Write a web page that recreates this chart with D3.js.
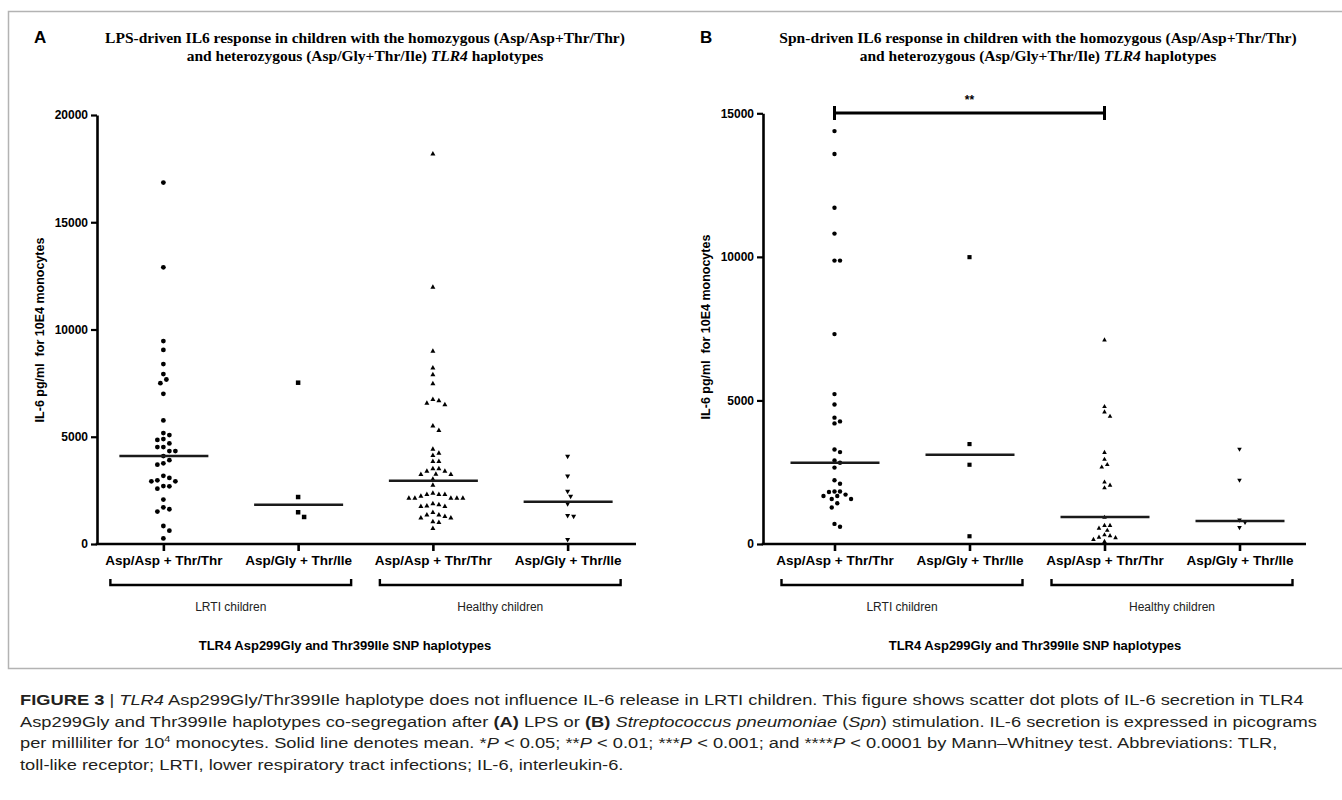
<!DOCTYPE html>
<html>
<head>
<meta charset="utf-8">
<script src="https://cdn.jsdelivr.net/npm/d3@7"></script>
<style>
  body { margin: 0; background: #fff; }
  svg { display: block; }
</style>
</head>
<body>
<svg id="fig" width="1342" height="800"></svg>
<script>
// category labels on the x axis (same for both panels)
const categories = ["Asp/Asp + Thr/Thr", "Asp/Gly + Thr/Ile", "Asp/Asp + Thr/Thr", "Asp/Gly + Thr/Ile"]
const groupLabels = ["LRTI children", "Healthy children"]
const markerShapes = ["circle", "square", "triangle", "triangleDown"]

// panel A, LPS stimulation (pg/ml)
const lpsLrtiHomo = [16850, 12900, 9460, 9050, 8390, 7920, 7670, 7500, 7000, 5760, 5170, 5080, 4890, 4850, 4690,
  4520, 4520, 4330, 4330, 4100, 3910, 3760, 3700, 3180, 3080, 2970, 2920, 2920, 2700, 2690, 2580, 2070,
  1710, 1620, 1510, 840, 620, 260]
const lpsLrtiHet = [7520, 2190, 1480, 1260]
const lpsHealthyHomo = [18200, 11990, 9010, 8230, 7910, 7490, 6760, 6700, 6590, 6510, 5530, 5310, 4440, 4250, 4150,
  3870, 3870, 3530, 3530, 3420, 3420, 3270, 3260, 3260, 3040, 2760, 2390, 2330, 2330, 2330, 2250, 2160, 2160,
  2160, 2160, 2160, 1900, 1850, 1800, 1770, 1770, 1490, 1370, 1370, 1300, 1240, 1240, 1060, 1030, 750]
const lpsHealthyHet = [4070, 3150, 2440, 2200, 1850, 1300, 1270, 190]
const lpsLines = [4100, 1830, 2950, 1970]
const lpsTicks = [0, 5000, 10000, 15000, 20000]

// panel B, Spn stimulation (pg/ml)
const spnLrtiHomo = [14380, 13580, 11710, 10810, 9870, 9870, 7310, 5220, 4860, 4400, 4270, 4200, 3290, 3200, 2910,
  2830, 2660, 2220, 2100, 1830, 1830, 1810, 1720, 1670, 1670, 1570, 1570, 1420, 1270, 700, 600]
const spnLrtiHet = [9990, 3480, 2760, 270]
const spnHealthyHomo = [7120, 4800, 4610, 4460, 3200, 2960, 2780, 2690, 2170, 2060, 1970, 940, 660, 660, 560, 490,
  330, 300, 250, 230, 170, 100]
const spnHealthyHet = [3290, 2210, 820, 740, 560]
const spnLines = [2830, 3110, 940, 800]
const spnTicks = [0, 5000, 10000, 15000]

const svg = d3.select("#fig")
const sans = "Arial, 'Liberation Sans', Helvetica, sans-serif"
const serif = "'Times New Roman', 'Liberation Serif', serif"

// figure frame
svg.append("rect")
  .attr("x", 8.5).attr("y", 11.5)
  .attr("width", 1340).attr("height", 657)
  .attr("fill", "none").attr("stroke", "#b3b3b3").attr("stroke-width", 1.5)

// simple dodge so dots in one column don't sit on top of each other
function swarm(values, y, cx, minDist, step) {
  const placed = []
  const sorted = values.slice().sort((a, b) => b - a)
  return sorted.map(v => {
    const py = y(v)
    let k = 0, off = 0
    while (true) {
      off = k === 0 ? 0 : (k % 2 ? 1 : -1) * Math.ceil(k / 2) * step
      const clash = placed.some(p => {
        const dx = p.x - (cx + off), dy = p.y - py
        return dx * dx + dy * dy < minDist * minDist
      })
      if (!clash) break
      k++
    }
    const pt = {v, x: cx + off, y: py}
    placed.push(pt)
    return pt
  })
}

function drawMarker(g, shape, x, y, s) {
  if (shape === "circle") {
    g.append("circle").attr("cx", x).attr("cy", y).attr("r", s * 0.48).attr("fill", "#000")
  } else if (shape === "square") {
    g.append("rect").attr("x", x - s * 0.45).attr("y", y - s * 0.45)
      .attr("width", s * 0.9).attr("height", s * 0.9).attr("fill", "#000")
  } else {
    const h = s * 0.5
    const d = shape === "triangle"
      ? `M${x},${y - h}L${x + h},${y + h * 0.8}L${x - h},${y + h * 0.8}Z`
      : `M${x},${y + h}L${x + h},${y - h * 0.8}L${x - h},${y - h * 0.8}Z`
    g.append("path").attr("d", d).attr("fill", "#000")
  }
}

function drawPanel(p) {
  const g = svg.append("g")

  const y = d3.scaleLinear().domain([0, p.yMax]).range([p.yBottom, p.yTop])
  const x = d3.scalePoint().domain([0, 1, 2, 3]).range(p.xRange).padding(0.5)

  // panel letter + title
  g.append("text").attr("x", p.letterX).attr("y", 43)
    .attr("font-family", sans).attr("font-weight", "bold").attr("font-size", 17)
    .text(p.letter)
  const t = g.append("text").attr("text-anchor", "middle")
    .attr("font-family", serif).attr("font-weight", "bold").attr("font-size", 15.5)
  t.append("tspan").attr("x", p.titleX).attr("y", 43).text(p.title1)
  const t2 = t.append("tspan").attr("x", p.titleX).attr("y", 61)
  t2.append("tspan").text("and heterozygous (Asp/Gly+Thr/Ile) ")
  t2.append("tspan").attr("font-style", "italic").text("TLR4")
  t2.append("tspan").text(" haplotypes")

  // y axis
  const yAxis = g.append("g")
    .attr("transform", `translate(${p.axisX},0)`)
    .call(d3.axisLeft(y).tickValues(p.ticks).tickSize(6).tickSizeOuter(0).tickFormat(d3.format("d")))
  yAxis.select(".domain").attr("stroke-width", 2.6)
  yAxis.selectAll(".tick line").attr("stroke-width", 2.2)
  yAxis.selectAll(".tick text")
    .attr("font-family", sans).attr("font-weight", "bold").attr("font-size", 12).attr("fill", "#000")

  g.append("text")
    .attr("transform", `translate(${p.axisX - 53},${p.labelY}) rotate(-90)`)
    .attr("text-anchor", "middle")
    .attr("font-family", sans).attr("font-weight", "bold").attr("font-size", 12.5)
    .attr("xml:space", "preserve")
    .text("IL-6 pg/ml  for 10E4 monocytes")

  // x axis
  const xAxis = g.append("g")
    .attr("transform", `translate(0,${p.yBottom})`)
    .call(d3.axisBottom(x).tickSize(7).tickPadding(4).tickFormat(i => categories[i]))
  xAxis.select(".domain").remove()
  xAxis.selectAll(".tick line").attr("stroke-width", 2.6)
  xAxis.selectAll(".tick text")
    .attr("font-family", sans).attr("font-weight", "bold").attr("font-size", 13.5).attr("fill", "#000")
  g.append("line")
    .attr("x1", p.axisX - 1.3).attr("x2", p.xEnd)
    .attr("y1", p.yBottom).attr("y2", p.yBottom)
    .attr("stroke", "#000").attr("stroke-width", 2.6)

  // group brackets
  groupLabels.forEach((lab, i) => {
    const x0 = x(i * 2) - 53, x1 = x(i * 2 + 1) + 53, by = p.yBottom + 41
    g.append("path")
      .attr("d", `M${x0},${by - 6}V${by}H${x1}V${by - 6}`)
      .attr("fill", "none").attr("stroke", "#000").attr("stroke-width", 2.4)
    g.append("text").attr("x", (x0 + x1) / 2).attr("y", by + 26)
      .attr("text-anchor", "middle")
      .attr("font-family", sans).attr("font-size", 12).attr("fill", "#222")
      .text(lab)
  })

  g.append("text").attr("x", p.xTitleX).attr("y", p.yBottom + 106)
    .attr("text-anchor", "middle")
    .attr("font-family", sans).attr("font-weight", "bold").attr("font-size", 13)
    .text("TLR4 Asp299Gly and Thr399Ile SNP haplotypes")

  // points and lines
  p.series.forEach((vals, i) => {
    const pts = swarm(vals, y, x(i), p.dotSize * 1.15, p.dotSize * 0.6)
    const mg = g.append("g")
    pts.forEach(d => drawMarker(mg, markerShapes[i], d.x, d.y, p.dotSize))
    g.append("line")
      .attr("x1", x(i) - 44).attr("x2", x(i) + 45)
      .attr("y1", y(p.lines[i])).attr("y2", y(p.lines[i]))
      .attr("stroke", "#1a1a1a").attr("stroke-width", 2.4)
  })

  return {x, y, g}
}

drawPanel({
  letter: "A", letterX: 34, titleX: 365,
  title1: "LPS-driven IL6 response in children with the homozygous (Asp/Asp+Thr/Thr)",
  yMax: 20000, yBottom: 544, yTop: 115, ticks: lpsTicks,
  axisX: 97, xRange: [96, 635], xEnd: 636, labelY: 330, xTitleX: 345,
  series: [lpsLrtiHomo, lpsLrtiHet, lpsHealthyHomo, lpsHealthyHet], lines: lpsLines,
  dotSize: 5
})

const b = drawPanel({
  letter: "B", letterX: 700, titleX: 1038,
  title1: "Spn-driven IL6 response in children with the homozygous (Asp/Asp+Thr/Thr)",
  yMax: 15000, yBottom: 544, yTop: 113.3, ticks: spnTicks,
  axisX: 763, xRange: [767, 1307], xEnd: 1306, labelY: 327, xTitleX: 1035,
  series: [spnLrtiHomo, spnLrtiHet, spnHealthyHomo, spnHealthyHet], lines: spnLines,
  dotSize: 4.6
})

// significance bar between LRTI homozygous and healthy homozygous (panel B)
const sx0 = b.x(0), sx1 = b.x(2), sy = 113
b.g.append("path")
  .attr("d", `M${sx0},${sy - 7}V${sy + 7}M${sx0},${sy}H${sx1}M${sx1},${sy - 7}V${sy + 7}`)
  .attr("fill", "none").attr("stroke", "#000").attr("stroke-width", 3)
b.g.append("text").attr("x", (sx0 + sx1) / 2).attr("y", 104)
  .attr("text-anchor", "middle").attr("font-family", sans).attr("font-weight", "bold").attr("font-size", 12)
  .text("**")

// caption
const capLines = [
  [["FIGURE 3", "b"], [" | ", ""], ["TLR4", "i"], [" Asp299Gly/Thr399Ile haplotype does not influence IL-6 release in LRTI children. This figure shows scatter dot plots of IL-6 secretion in TLR4", ""]],
  [["Asp299Gly and Thr399Ile haplotypes co-segregation after ", ""], ["(A)", "b"], [" LPS or ", ""], ["(B)", "b"], [" ", ""], ["Streptococcus pneumoniae", "i"], [" (", ""], ["Spn", "i"], [") stimulation. IL-6 secretion is expressed in picograms", ""]],
  [["per milliliter for 10", ""], ["4", "sup"], [" monocytes. Solid line denotes mean. *", ""], ["P", "i"], [" < 0.05; **", ""], ["P", "i"], [" < 0.01; ***", ""], ["P", "i"], [" < 0.001; and ****", ""], ["P", "i"], [" < 0.0001 by Mann\u2013Whitney test. Abbreviations: TLR,", ""]],
  [["toll-like receptor; LRTI, lower respiratory tract infections; IL-6, interleukin-6.", ""]]
]
const capG = svg.append("g")
const capTexts = capLines.map((parts, i) => {
  const t = capG.append("text")
    .attr("x", 0).attr("y", 0)
    .attr("font-family", sans).attr("font-size", 15).attr("fill", "#231f20")
    .attr("xml:space", "preserve")
  parts.forEach(([s, st]) => {
    const sp = t.append("tspan").text(s)
    if (st === "b") sp.attr("font-weight", "bold")
    if (st === "i") sp.attr("font-style", "italic")
    if (st === "sup") sp.attr("font-size", 9).attr("dy", -6)
    if (st === "" && i === 2 && s.startsWith(" monocytes")) sp.attr("dy", 6)
  })
  return t
})
// squeeze to the narrow caption face of the original
const w0 = capTexts[0].node().getComputedTextLength()
const sx = 1285 / w0
capTexts.forEach((t, i) => {
  t.attr("transform", `translate(20,${705 + i * 21.5}) scale(${sx},1)`)
})
</script>
</body>
</html>
